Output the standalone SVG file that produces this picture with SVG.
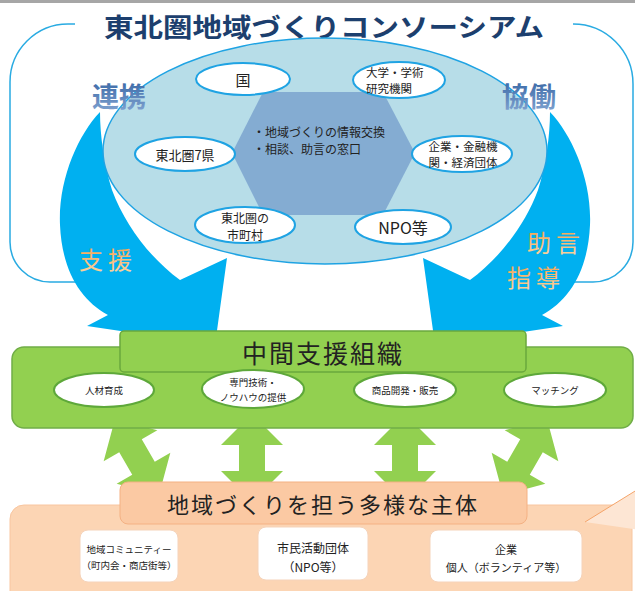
<svg xmlns="http://www.w3.org/2000/svg" width="635" height="591" viewBox="0 0 635 591">
<defs>
<linearGradient id="gBlue" x1="0" y1="0" x2="0" y2="1">
<stop offset="0" stop-color="#2f5f9f"/><stop offset="1" stop-color="#86a8d4"/>
</linearGradient>
<linearGradient id="gOrange" x1="0" y1="0" x2="0" y2="1">
<stop offset="0" stop-color="#f59a3e"/><stop offset="1" stop-color="#fcd9a8"/>
</linearGradient>
<path id="band" d="M100,112 C78,135 58,180 60,225 C62,270 80,300 108,315 L87,326 L215,345 L227,258 L180,280 C150,258 125,225 112,190 C104,165 100,135 100,112 Z"/>
<path id="dbl" d="M0,-44 L31,-13 L13,-13 L13,13 L31,13 L0,44 L-31,13 L-13,13 L-13,-13 L-31,-13 Z"/>
</defs>
<style>
text{font-family:"Noto Sans CJK JP","Noto Sans",sans-serif;fill:#222;text-anchor:middle;dominant-baseline:central}
.node ellipse.w{fill:#fff;stroke:#1fa3e3;stroke-width:2}
.gnode ellipse{fill:#fff;stroke:#5ea83a;stroke-width:2}
.band{fill:#00b0f0}
.garrow{fill:#92d050}
.wbox{fill:#fff;stroke:#f5d3ba;stroke-width:1}
.lbl-b{font-size:27px;font-weight:bold;fill:url(#gBlue)}
.lbl-o{font-size:24px;fill:url(#gOrange);letter-spacing:5px}
</style>
<rect x="0" y="0" width="635" height="3" fill="#a6a6a6"/>

<g id="consortium-frame">
<path d="M75,24 H68 A58,58 0 0 0 10,82 V242 A40,40 0 0 0 50,282 H120 M530,282 H593 A40,40 0 0 0 633,242 V84 A60,60 0 0 0 573,24" fill="none" stroke="#29abe2" stroke-width="1.5"/>
<text x="324" y="25" font-size="26" font-weight="bold" style="fill:#1c3f6e" textLength="440" lengthAdjust="spacingAndGlyphs">東北圏地域づくりコンソーシアム</text>
</g>

<g id="connectors">
<use href="#band" class="band"/>
<use href="#band" class="band" transform="translate(650,0) scale(-1,1)"/>
<use href="#dbl" class="garrow" transform="translate(137,457) rotate(-30)"/>
<use href="#dbl" class="garrow" transform="translate(252,458)"/>
<use href="#dbl" class="garrow" transform="translate(405,458)"/>
<use href="#dbl" class="garrow" transform="translate(525,457) rotate(30)"/>
</g>

<g id="consortium">
<ellipse cx="325" cy="151" rx="222" ry="113" fill="#b7dde8" stroke="#1fa3e3" stroke-width="1.5"/>
<polygon points="263,92 383,92 415,153 383,215 263,215 232,153" fill="#84acd2"/>
<text x="253" y="131" font-size="12" style="text-anchor:start">・地域づくりの情報交換</text>
<text x="253" y="148" font-size="12" style="text-anchor:start">・相談、助言の窓口</text>
</g>

<g id="kuni" class="node"><ellipse class="w" cx="243" cy="79" rx="47" ry="16"/><text x="243" y="79" font-size="15">国</text></g>
<g id="daigaku" class="node"><ellipse class="w" cx="399" cy="80" rx="46" ry="18"/><text x="366" y="72" font-size="11.5" style="text-anchor:start">大学・学術</text><text x="366" y="88" font-size="11.5" style="text-anchor:start">研究機関</text></g>
<g id="ken" class="node"><ellipse class="w" cx="185" cy="154" rx="50" ry="17"/><text x="185" y="154" font-size="13">東北圏7県</text></g>
<g id="kigyo" class="node"><ellipse class="w" cx="462" cy="154" rx="50" ry="18"/><text x="463" y="146" font-size="11.5">企業・金融機</text><text x="463" y="162" font-size="11.5">関・経済団体</text></g>
<g id="shichoson" class="node"><ellipse class="w" cx="245" cy="225" rx="50" ry="18"/><text x="245" y="217" font-size="12">東北圏の</text><text x="245" y="234" font-size="12">市町村</text></g>
<g id="npo" class="node"><ellipse class="w" cx="403" cy="227" rx="48" ry="17"/><text x="403" y="227" font-size="16">NPO等</text></g>

<g id="labels">
<text x="119" y="95" class="lbl-b">連携</text>
<text x="529" y="95" class="lbl-b">協働</text>
<text x="108" y="258" class="lbl-o">支援</text>
<text x="556" y="241" class="lbl-o">助言</text>
<text x="536" y="276" class="lbl-o">指導</text>
</g>

<g id="chukan">
<rect x="12" y="347" width="621" height="81" rx="12" fill="#92d050" stroke="#70ad47" stroke-width="1.5"/>
<rect x="120" y="331" width="406" height="41" rx="4" fill="#92d050" stroke="#6aa83c" stroke-width="1.5"/>
<text x="323" y="352" font-size="25" style="letter-spacing:2px">中間支援組織</text>
</g>
<g id="jinzai" class="gnode"><ellipse cx="104" cy="390" rx="50" ry="17"/><text x="104" y="390" font-size="9.5">人材育成</text></g>
<g id="senmon" class="gnode"><ellipse cx="253" cy="389" rx="51" ry="19"/><text x="253" y="382" font-size="9.5">専門技術・</text><text x="253" y="397" font-size="9.5">ノウハウの提供</text></g>
<g id="shohin" class="gnode"><ellipse cx="405" cy="390" rx="51" ry="17"/><text x="405" y="390" font-size="9.5">商品開発・販売</text></g>
<g id="matching" class="gnode"><ellipse cx="555" cy="390" rx="51" ry="17"/><text x="555" y="390" font-size="9.5">マッチング</text></g>

<g id="shutai">
<rect x="10" y="505" width="622" height="100" rx="14" fill="#fcd5b4" stroke="#f8c6a0" stroke-width="1"/>
<polygon points="585,522 640,488 640,530" fill="#fde6d4"/>
<line x1="585" y1="522" x2="640" y2="488" stroke="#f4a46a" stroke-width="1"/>
<rect x="120" y="482" width="407" height="42" rx="8" fill="#fbc9a3" stroke="#f4b183" stroke-width="1"/>
<text x="323" y="503" font-size="22" style="letter-spacing:2px">地域づくりを担う多様な主体</text>
</g>
<g id="community"><rect class="wbox" x="80" y="530" width="98" height="52" rx="8"/><text x="129" y="549" font-size="9.5">地域コミュニティー</text><text x="129" y="565" font-size="9.5">（町内会・商店街等）</text></g>
<g id="shimin"><rect class="wbox" x="258" y="527" width="110" height="53" rx="8"/><text x="313" y="547" font-size="12">市民活動団体</text><text x="313" y="566" font-size="12">（NPO等）</text></g>
<g id="kojin"><rect class="wbox" x="430" y="530" width="152" height="52" rx="8"/><text x="506" y="549" font-size="11">企業</text><text x="506" y="567" font-size="11">個人（ボランティア等）</text></g>
</svg>
